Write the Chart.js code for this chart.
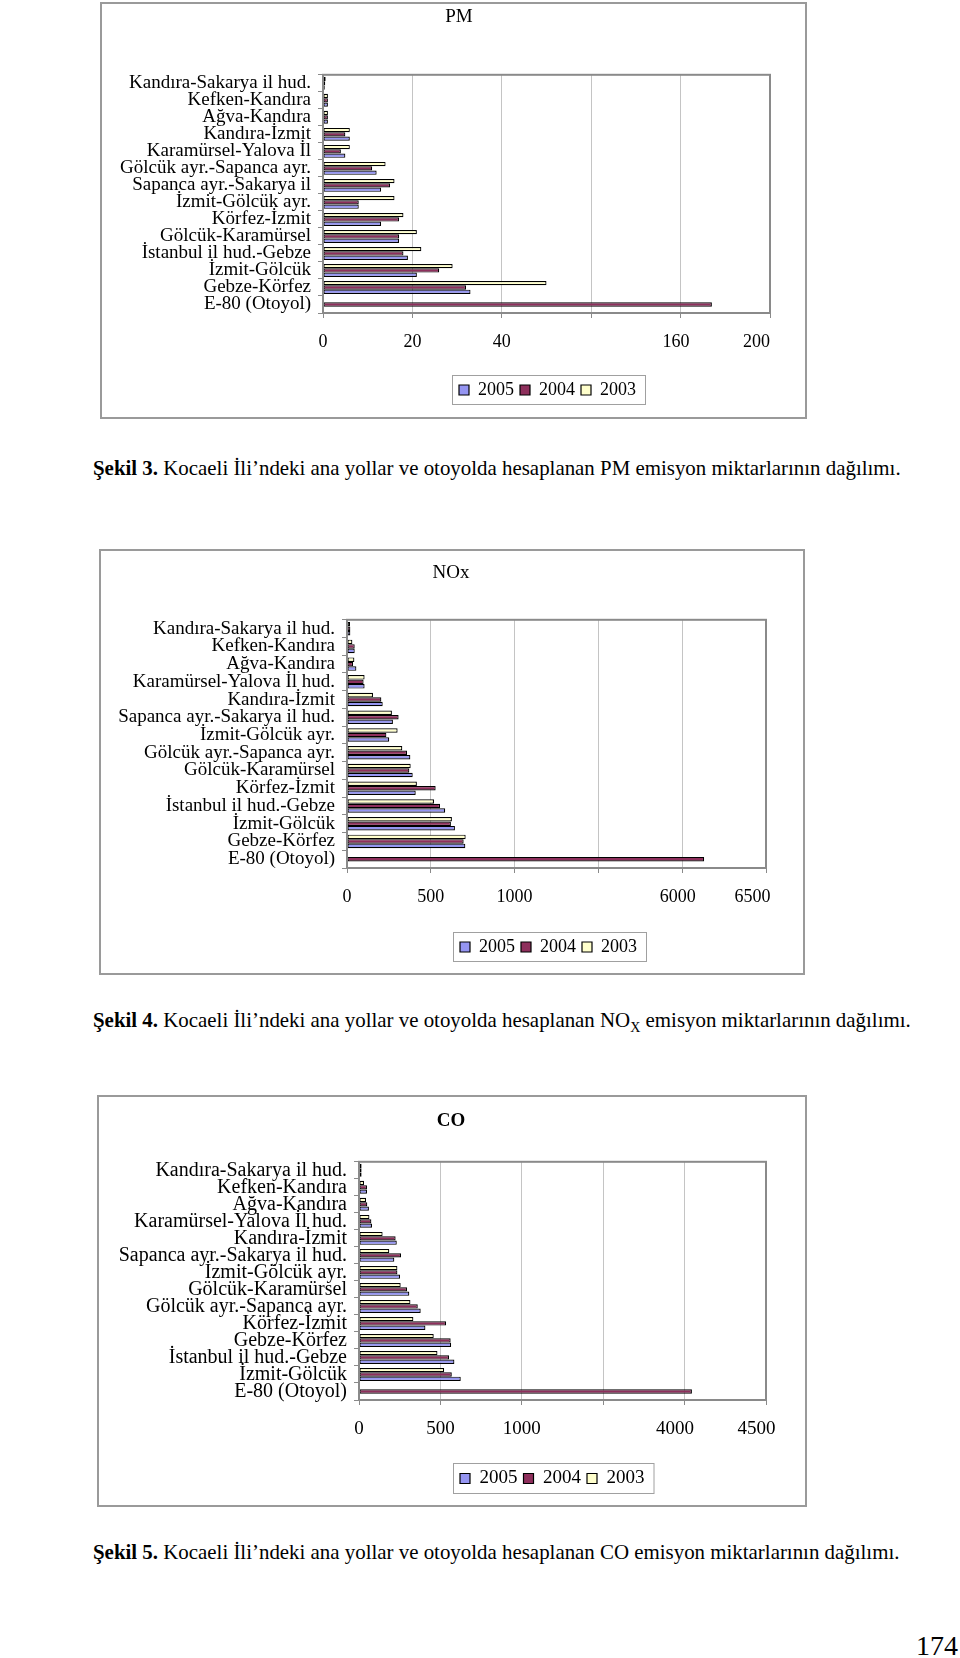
<!DOCTYPE html>
<html lang="tr">
<head>
<meta charset="UTF-8">
<title>Kocaeli emisyon grafikleri</title>
<script src="https://cdn.jsdelivr.net/npm/chart.js@4.4.1/dist/chart.umd.min.js"></script>
<style>
  body { margin: 0; background: #fff; width: 960px; height: 1658px; position: relative;
         font-family: "Liberation Serif", "Times New Roman", serif; color: #000; overflow: hidden; }
  .box { position: absolute; border: 2px solid #9a9a9a; box-sizing: border-box; }
  .box canvas { position: absolute; left: 0; top: 0; }
  .cap { position: absolute; left: 93px; font-size: 20.9px; line-height: 24px; white-space: nowrap; }
  .pageno { position: absolute; right: 2px; top: 1630px; font-size: 28px; line-height: 32px; }
</style>
</head>
<body>

<div class="box" style="left:100px; top:2px; width:707px; height:417px;">
  <canvas id="pmChart" width="703" height="413"></canvas>
</div>
<div class="cap" style="top:456px;"><b>Şekil 3.</b> Kocaeli İli’ndeki ana yollar ve otoyolda hesaplanan PM emisyon miktarlarının dağılımı.</div>

<div class="box" style="left:99px; top:549px; width:706px; height:426px;">
  <canvas id="noxChart" width="702" height="422"></canvas>
</div>
<div class="cap" style="top:1008px;"><b>Şekil 4.</b> Kocaeli İli’ndeki ana yollar ve otoyolda hesaplanan NO<sub style="font-size:14px">X</sub> emisyon miktarlarının dağılımı.</div>

<div class="box" style="left:97px; top:1095px; width:710px; height:412px;">
  <canvas id="coChart" width="706" height="408"></canvas>
</div>
<div class="cap" style="top:1540px;"><b>Şekil 5.</b> Kocaeli İli’ndeki ana yollar ve otoyolda hesaplanan CO emisyon miktarlarının dağılımı.</div>

<div class="pageno">174</div>

<script>
// ---- data ----
const years = ['2005', '2004', '2003'];

const pmRoads = ['Kandıra-Sakarya il hud.', 'Kefken-Kandıra', 'Ağva-Kandıra', 'Kandıra-İzmit',
  'Karamürsel-Yalova İl', 'Gölcük ayr.-Sapanca ayr.', 'Sapanca ayr.-Sakarya il', 'İzmit-Gölcük ayr.',
  'Körfez-İzmit', 'Gölcük-Karamürsel', 'İstanbul il hud.-Gebze', 'İzmit-Gölcük', 'Gebze-Körfez', 'E-80 (Otoyol)'];
const pm2005 = [0.4, 1.1, 1.1, 6, 5, 12, 13, 8, 13, 17, 19, 21, 33, null];
const pm2004 = [0.5, 1.1, 1.1, 5, 4, 11, 15, 8, 17, 17, 18, 26, 32, 174];
const pm2003 = [0.6, 1.1, 1.1, 6, 6, 14, 16, 16, 18, 21, 22, 29, 50, null];
const pmTicks = ['0', '20', '40', '', '160', '200'];

const noxRoads = ['Kandıra-Sakarya il hud.', 'Kefken-Kandıra', 'Ağva-Kandıra', 'Karamürsel-Yalova İl hud.',
  'Kandıra-İzmit', 'Sapanca ayr.-Sakarya il hud.', 'İzmit-Gölcük ayr.', 'Gölcük ayr.-Sapanca ayr.',
  'Gölcük-Karamürsel', 'Körfez-İzmit', 'İstanbul il hud.-Gebze', 'İzmit-Gölcük', 'Gebze-Körfez', 'E-80 (Otoyol)'];
const nox2005 = [20, 46, 56, 105, 213, 274, 252, 378, 392, 410, 586, 644, 706, null];
const nox2004 = [20, 46, 36, 99, 205, 308, 235, 358, 372, 529, 555, 620, 696, 6131];
const nox2003 = [18, 32, 44, 105, 155, 268, 302, 330, 380, 417, 519, 626, 708, null];
const noxTicks = ['0', '500', '1000', '', '6000', '6500'];

const coRoads = ['Kandıra-Sakarya il hud.', 'Kefken-Kandıra', 'Ağva-Kandıra', 'Karamürsel-Yalova İl hud.',
  'Kandıra-İzmit', 'Sapanca ayr.-Sakarya il hud.', 'İzmit-Gölcük ayr.', 'Gölcük-Karamürsel',
  'Gölcük ayr.-Sapanca ayr.', 'Körfez-İzmit', 'Gebze-Körfez', 'İstanbul il hud.-Gebze', 'İzmit-Gölcük', 'E-80 (Otoyol)'];
const co2005 = [16, 49, 61, 80, 232, 217, 252, 309, 379, 408, 566, 586, 625, null];
const co2004 = [16, 49, 51, 76, 225, 258, 236, 295, 361, 535, 563, 553, 570, 4045];
const co2003 = [16, 31, 43, 64, 145, 186, 236, 256, 316, 334, 459, 482, 523, null];
const coTicks = ['0', '500', '1000', '', '4000', '4500'];

const colors = { '2005': '#9595f2', '2004': '#8e2f5c', '2003': '#ffffcc' };

Chart.defaults.font.family = '"Liberation Serif", "Times New Roman", serif';
Chart.defaults.color = '#000';

// the axis in the original is broken: past the gap one grid step stands for a bigger range
function toAxis(v, brk) {
  if (v == null) return null;
  if (v >= brk.real) return brk.axis + (v - brk.real) / brk.scale;
  return v;
}

// plot-area border, title/legend placed where the scan has them, frame round the legend
const framePlugin = {
  id: 'frame',
  afterLayout(chart, args, opts) {
    const tb = chart.titleBlock;
    const tdx = opts.titleX - (tb.left + tb.right) / 2;
    tb.left += tdx;
    tb.right += tdx;

    const lg = chart.legend;
    const pad = lg.options.labels.padding;
    const cur = (lg.left + pad + lg.right - lg.lineWidths[0]) / 2;
    const dx = opts.legendLeft + 7 - cur;
    lg.left += dx;
    lg.right += dx;
  },
  afterDatasetsDraw(chart) {
    const a = chart.chartArea, ctx = chart.ctx;
    ctx.save();
    ctx.strokeStyle = '#8a8a8a';
    ctx.lineWidth = 2;
    ctx.strokeRect(a.left, a.top, a.right - a.left, a.bottom - a.top);
    ctx.restore();
  },
  afterDraw(chart, args, opts) {
    const lg = chart.legend, ctx = chart.ctx;
    const pad = lg.options.labels.padding;
    const hb = lg.legendHitBoxes;
    const last = hb[hb.length - 1];
    ctx.save();
    ctx.strokeStyle = '#a0a0a0';
    ctx.lineWidth = 1;
    ctx.strokeRect(opts.legendLeft + 0.5, lg.top + 0.5,
      last.left + last.width + 9 - opts.legendLeft, lg.height - 10 + pad - 1);
    ctx.restore();
  }
};

function makeChart(id, cfg) {
  const sets = [['2003', cfg.s2003], ['2004', cfg.s2004], ['2005', cfg.s2005]];
  return new Chart(document.getElementById(id), {
    type: 'bar',
    data: {
      labels: cfg.roads,
      datasets: sets.map(([y, vals]) => ({
        label: y,
        data: vals.map(v => toAxis(v, cfg.brk)),
        backgroundColor: colors[y],
        borderColor: '#000',
        borderWidth: 1.2,
        borderSkipped: false,
        categoryPercentage: 0.76,
        barPercentage: 1.0
      }))
    },
    options: {
      indexAxis: 'y',
      responsive: false,
      animation: false,
      layout: { padding: { left: 0, right: cfg.padRight, top: 0, bottom: cfg.padBottom } },
      scales: {
        x: {
          min: 0, max: cfg.max,
          afterFit: s => { s.height = cfg.xh; s.paddingLeft = 0; s.paddingRight = 0; },
          grid: { color: '#c4c4c4', tickColor: '#8a8a8a', tickLength: 5 },
          border: { display: false },
          ticks: {
            stepSize: cfg.max / 5, autoSkip: false, maxRotation: 0, padding: 13,
            font: { size: cfg.tickSize },
            // the labels past the break were pasted a little to the left in the original
            callback: (v, i) => cfg.ticks[i] + ' '.repeat(cfg.nudge[i])
          }
        },
        y: {
          afterFit: s => { s.width = cfg.yw; },
          grid: { offset: true, drawOnChartArea: false, tickColor: '#8a8a8a', tickLength: 5 },
          border: { display: false },
          ticks: { autoSkip: false, padding: 7, font: { size: cfg.labelSize } }
        }
      },
      plugins: {
        title: {
          display: true, text: cfg.title, color: '#000',
          font: { size: 19, weight: cfg.bold ? 'bold' : 'normal', lineHeight: 1.2 },
          padding: { top: cfg.titleTop, bottom: cfg.titleBottom }
        },
        legend: {
          position: 'bottom', reverse: true,
          labels: { boxWidth: 10, boxHeight: 10, padding: 6, font: { size: cfg.tickSize }, color: '#000' }
        },
        tooltip: { enabled: false },
        frame: { legendLeft: cfg.legendLeft, titleX: cfg.titleX }
      }
    },
    plugins: [framePlugin]
  });
}

makeChart('pmChart', {
  roads: pmRoads, s2005: pm2005, s2004: pm2004, s2003: pm2003, ticks: pmTicks, nudge: [0, 0, 0, 0, 2, 6],
  max: 100, brk: { axis: 80, real: 160, scale: 2 }, title: 'PM', bold: false,
  labelSize: 19, tickSize: 18, yw: 221, padRight: 35, padBottom: 8, xh: 62,
  titleTop: 2, titleBottom: 46, titleX: 357, legendLeft: 350
});

makeChart('noxChart', {
  roads: noxRoads, s2005: nox2005, s2004: nox2004, s2003: nox2003, ticks: noxTicks, nudge: [0, 0, 0, 0, 2, 6],
  max: 2500, brk: { axis: 2000, real: 6000, scale: 1 }, title: 'NOx', bold: false,
  labelSize: 19, tickSize: 18, yw: 246, padRight: 37, padBottom: 7, xh: 64,
  titleTop: 11, titleBottom: 35, titleX: 350, legendLeft: 352
});

makeChart('coChart', {
  roads: coRoads, s2005: co2005, s2004: co2004, s2003: co2003, ticks: coTicks, nudge: [0, 0, 0, 0, 4, 4],
  max: 2500, brk: { axis: 2000, real: 4000, scale: 1 }, title: 'CO', bold: true,
  labelSize: 20, tickSize: 19, yw: 260, padRight: 39, padBottom: 7, xh: 63,
  titleTop: 13, titleBottom: 29, titleX: 352, legendLeft: 354
});
</script>
</body>
</html>
